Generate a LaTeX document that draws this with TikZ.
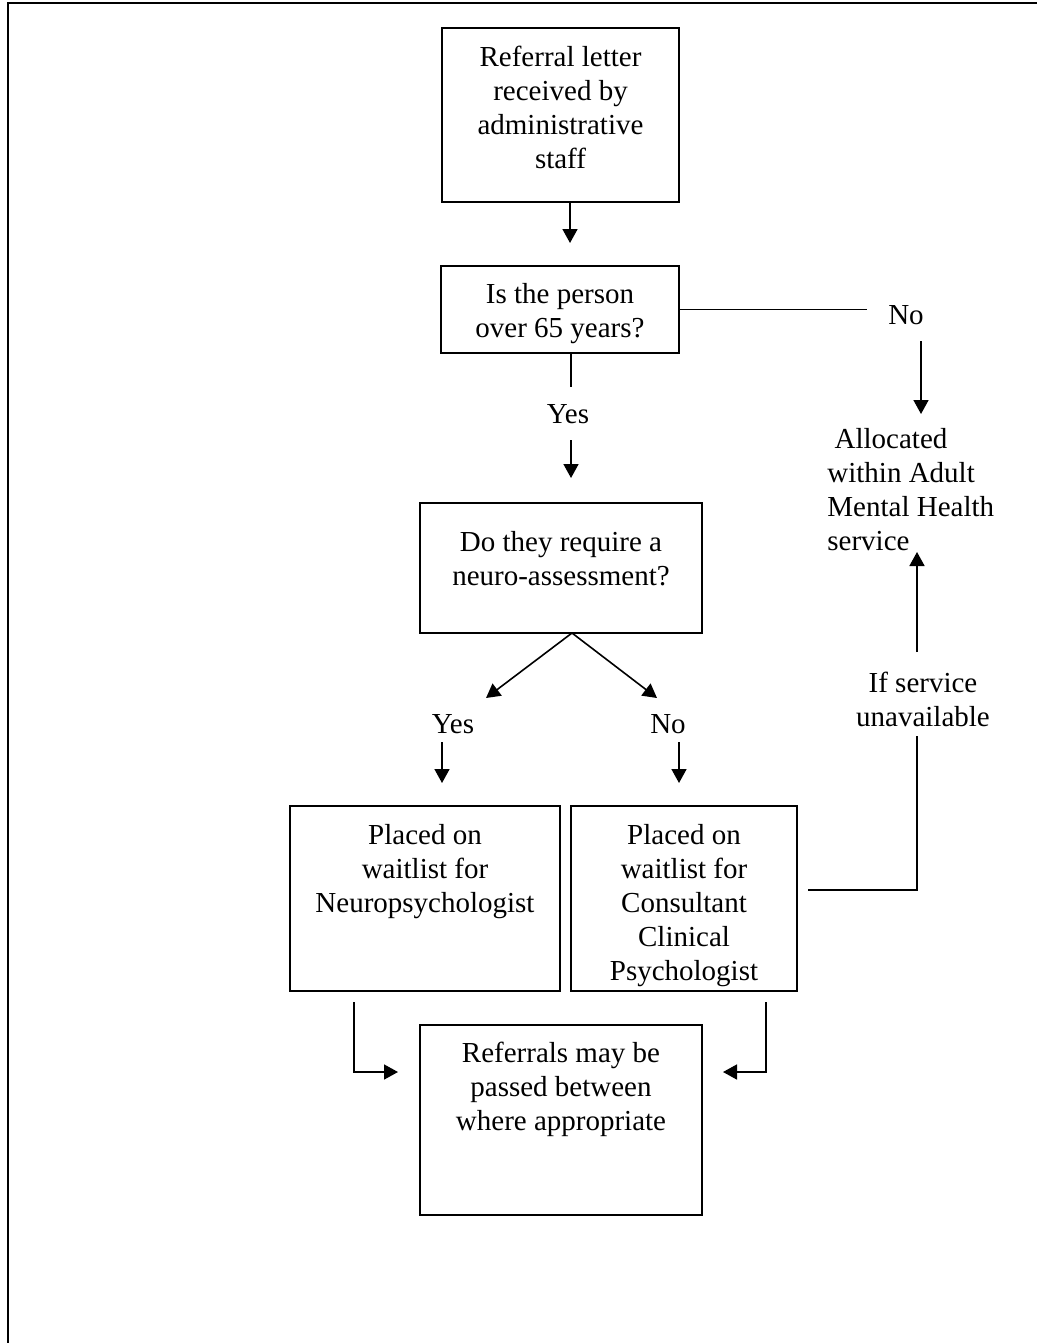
\documentclass[tikz,border=0pt]{standalone}
\usepackage{fontspec}
\setmainfont{Liberation Serif}
\usetikzlibrary{arrows.meta}
\begin{document}
\begin{tikzpicture}[x=0.5pt,y=-0.5pt,
  box/.style={draw,line width=0.7pt,rectangle,inner sep=0pt},
  txt/.style={font=\fontsize{14.5pt}{17pt}\selectfont,align=center,inner sep=0pt,anchor=north},
  lbl/.style={font=\fontsize{14.5pt}{17pt}\selectfont,inner sep=0pt,anchor=base},
  ln/.style={line width=0.8pt},
  arr/.style={line width=0.8pt,-{Triangle[width=7.5pt,length=7pt]}}]
\useasboundingbox (0,0) rectangle (1037,1343);
% outer frame (cropped)
\draw[line width=1.3pt] (8,1350) -- (8,3) -- (1045,3);

% boxes
\node[box,minimum width=118.5pt,minimum height=87pt] (b1) at (560.5,115) {};
\node[box,minimum width=119pt,minimum height=43.5pt] (b2) at (560,309.5) {};
\node[box,minimum width=141pt,minimum height=65pt] (b3) at (561,568) {};
\node[box,minimum width=135pt,minimum height=92.5pt] (b4) at (425,898.5) {};
\node[box,minimum width=113pt,minimum height=92.5pt] (b5) at (684,898.5) {};
\node[box,minimum width=141pt,minimum height=95pt] (b6) at (561,1120) {};

% box texts
\node[txt] (t1) at (560.5,46) {Referral letter\\received by\\administrative\\staff};
\node[txt] (t2) at (560,283) {Is the person\\over 65 years?};
\node[txt] (t3) at (561,531) {Do they require a\\neuro-assessment?};
\node[txt] (t4) at (425,824) {Placed on\\waitlist for\\Neuropsychologist};
\begin{scope}
\clip (571,806) rectangle (797,991);
\node[txt] (t5) at (684,824) {Placed on\\waitlist for\\Consultant\\Clinical\\Psychologist};
\end{scope}
\node[txt] (t6) at (561,1042) {Referrals may be\\passed between\\where appropriate};

% free labels
\node[lbl] (yes1) at (568,423) {Yes};
\node[lbl] (no1) at (906,324) {No};
\node[lbl] (yes2) at (453,733) {Yes};
\node[lbl] (no2) at (668,733) {No};
\node[txt,align=left,anchor=north west] (amh) at (827,428) {~Allocated\\within Adult\\Mental Health\\service};
\node[txt] (isu) at (923,672) {If service\\unavailable};

% connector end points
\coordinate (a1) at (570,243);
\coordinate (c2) at (571,387);
\coordinate (c3s) at (571,440);
\coordinate (c3e) at (571,478);
\coordinate (c4) at (867,309.5);
\coordinate (c5s) at (921,341);
\coordinate (c5e) at (921,414);
\coordinate (c6s) at (917,652);
\coordinate (c6e) at (917,552);
\coordinate (c7s) at (917,736);
\coordinate (c7c) at (917,890);
\coordinate (c7e) at (808,890);
\coordinate (apex) at (572,633);
\coordinate (dl) at (486,698);
\coordinate (dr) at (657,698);
\coordinate (yl1) at (442,742);
\coordinate (yl2) at (442,783);
\coordinate (nr1) at (679,742);
\coordinate (nr2) at (679,783);
\coordinate (bl1) at (354,1002);
\coordinate (bl2) at (354,1072);
\coordinate (bl3) at (398,1072);
\coordinate (br1) at (766,1002);
\coordinate (br2) at (766,1072);
\coordinate (br3) at (723,1072);

% connectors
\draw[arr] (b1.south -| a1) -- (a1);
\draw[ln] (b2.south -| c2) -- (c2);
\draw[arr] (c3s) -- (c3e);
\draw[ln] (b2.east) -- (c4);
\draw[arr] (c5s) -- (c5e);
\draw[arr] (c6s) -- (c6e);
\draw[ln] (c7s) -- (c7c) -- (c7e);
\draw[arr] (apex) -- (dl);
\draw[arr] (apex) -- (dr);
\draw[arr] (yl1) -- (yl2);
\draw[arr] (nr1) -- (nr2);
\draw[arr] (bl1) -- (bl2) -- (bl3);
\draw[arr] (br1) -- (br2) -- (br3);
\end{tikzpicture}
\end{document}
